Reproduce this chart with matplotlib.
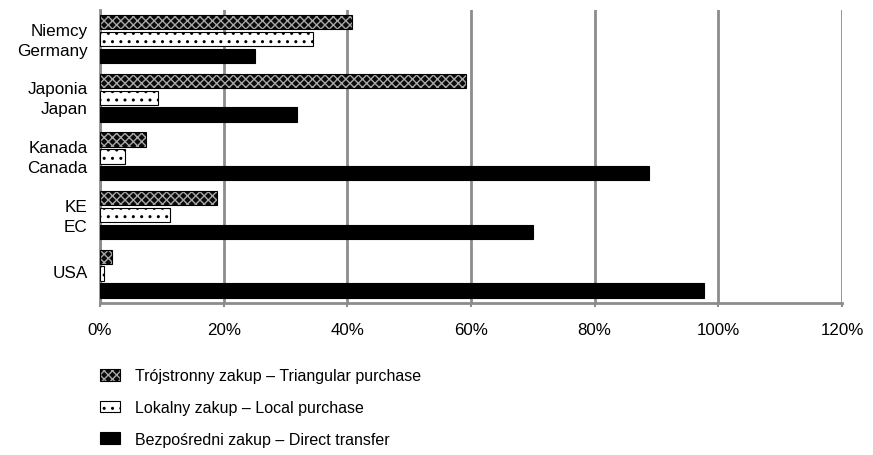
import matplotlib
matplotlib.use("Agg")
import matplotlib.pyplot as plt
from matplotlib.patches import Patch
from matplotlib.legend_handler import HandlerTuple
from matplotlib.transforms import ScaledTranslation
import numpy as np

categories = ["Niemcy\nGermany", "Japonia\nJapan", "Kanada\nCanada", "KE\nEC", "USA"]
triangular = [40.7, 59.2, 7.4, 18.9, 1.9]
local = [34.5, 9.4, 4.0, 11.3, 0.6]
direct = [25.0, 31.8, 88.8, 70.0, 97.7]
series_labels = ["Trójstronny zakup – Triangular purchase",
                 "Lokalny zakup – Local purchase",
                 "Bezpośredni zakup – Direct transfer"]
xticks = [0, 20, 40, 60, 80, 100, 120]

plt.rcParams['font.family'] = ['Liberation Sans', 'DejaVu Sans']
plt.rcParams['hatch.linewidth'] = 1.0

fig = plt.figure(figsize=(8.73, 4.56), dpi=100)
ax = fig.add_axes([100/873, 1-304/456, 742/873, 293.3/456])

y = np.arange(len(categories))
slot = 0.288
h = 0.245
grid_c = '#8c8c8c'
tri_face = '#0a0a0a'
tri_hatch = '#a8a8a8'

# triangular: dark with light cross-hatch
ax.barh(y - slot, triangular, height=h, color=tri_face, edgecolor=tri_hatch,
        hatch='xxxx', linewidth=0, zorder=3)
ax.barh(y - slot, triangular, height=h, fill=False, edgecolor='black', linewidth=0.8, zorder=4)
# local: white with dots
ax.barh(y, local, height=h, color='white', edgecolor='black', hatch='..', linewidth=0.8, zorder=3)
# direct: solid black
ax.barh(y + slot, direct, height=h, color='black', edgecolor='black', linewidth=0.8, zorder=3)

ax.set_ylim(len(categories) - 0.5, -0.5)
ax.set_yticks(y)
ax.set_yticklabels(categories, fontsize=12.3, ha='right', linespacing=1.4)
ax.tick_params(axis='y', length=0, pad=9)
shift = ScaledTranslation(0, 2/72, fig.dpi_scale_trans)
for lab in ax.get_yticklabels():
    lab.set_transform(lab.get_transform() + shift)

ax.set_xlim(0, 120)
ax.set_xticks(xticks)
ax.set_xticklabels([f"{v}%" for v in xticks], fontsize=12.2)
ax.tick_params(axis='x', length=3, color=grid_c, width=1.5, pad=11)

ax.xaxis.grid(True, color=grid_c, linewidth=2, zorder=0)
ax.set_axisbelow(True)
for s in ['top', 'right']:
    ax.spines[s].set_visible(False)
for s in ['left', 'bottom']:
    ax.spines[s].set_color(grid_c)
    ax.spines[s].set_linewidth(2)

h1 = (Patch(facecolor=tri_face, edgecolor=tri_hatch, hatch='xxxx', linewidth=0),
      Patch(fill=False, edgecolor='black', linewidth=0.8))
h2 = Patch(facecolor='white', edgecolor='black', hatch='..', linewidth=0.8)
h3 = Patch(facecolor='black', edgecolor='black', linewidth=0.8)
fig.legend([h1, h2, h3], series_labels, loc='upper left',
           bbox_to_anchor=(86/873, 1-355/456), frameon=False, fontsize=11.5,
           handler_map={tuple: HandlerTuple(ndivide=1)},
           handlelength=1.25, handleheight=0.75, handletextpad=0.9, labelspacing=1.05)

fig.savefig("out.png", dpi=100)
